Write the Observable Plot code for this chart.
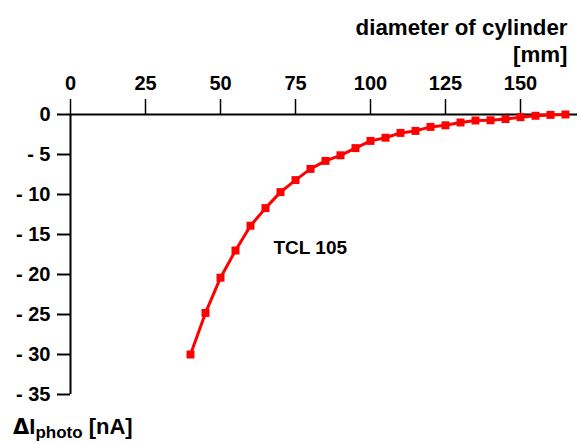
<!DOCTYPE html>
<html><head><meta charset="utf-8">
<script src="https://cdn.jsdelivr.net/npm/d3@7"></script>
<script src="https://cdn.jsdelivr.net/npm/@observablehq/plot@0.6"></script>
<style>
body{margin:0;background:#fff;}
#wrap{position:relative;width:581px;height:444px;font-family:"Liberation Sans",Arial,sans-serif;}
#wrap svg{display:block;}
#ylabel{position:absolute;left:13px;top:416px;font-size:22px;font-weight:bold;line-height:22px;white-space:nowrap;color:#000;}
#ylabel .delta{font-family:"DejaVu Sans",sans-serif;font-size:21px;}
#ylabel sub{font-size:17px;vertical-align:-4px;line-height:0;}
</style></head><body>
<div id="wrap"><div id="ylabel"><span class="delta">Δ</span>I<sub>photo</sub> [nA]</div></div>
<script>
const diameters = [40,45,50,55,60,65,70,75,80,85,90,95,100,105,110,115,120,125,130,135,140,145,150,155,160,165];
const deltaI = [-30.0,-24.8,-20.4,-17.0,-13.9,-11.7,-9.7,-8.2,-6.8,-5.8,-5.1,-4.2,-3.3,-2.9,-2.3,-2.05,-1.55,-1.35,-1.0,-0.75,-0.72,-0.57,-0.33,-0.16,-0.05,0.0];
const xTicks = [0,25,50,75,100,125,150];
const yTicks = [0,-5,-10,-15,-20,-25,-30,-35];
const seriesLabel = "TCL 105";
const xTitle = "diameter of cylinder\n[mm]";

const data = diameters.map((d,i)=>({d, v: deltaI[i]}));
const red = "#ff0000";

const chart = Plot.plot({
  width:581, height:444,
  marginTop:114, marginBottom:50, marginLeft:70, marginRight:4,
  style:{fontFamily:"Liberation Sans, Arial, sans-serif", fontWeight:"bold", fontSize:"20px", color:"#000", background:"#fff"},
  x:{domain:[0,169], axis:null},
  y:{domain:[-35,0], axis:null},
  marks:[
    Plot.axisX({anchor:"top", ticks:xTicks, tickSize:16, tickPadding:9, fontSize:20, strokeWidth:1.5, label:null}),
    Plot.axisY({anchor:"left", ticks:yTicks, tickSize:13, tickPadding:7, fontSize:20, strokeWidth:2, label:null,
      tickFormat: d => d === 0 ? "0" : "- " + Math.abs(d)}),
    Plot.ruleY([0], {stroke:"#000", strokeWidth:2}),
    Plot.ruleX([0], {stroke:"#000", strokeWidth:2}),
    Plot.line(data, {x:"d", y:"v", stroke:red, strokeWidth:3}),
    Plot.dot(data, {x:"d", y:"v", symbol:"square", r:4.5, fill:red, stroke:"none"}),
    Plot.text([seriesLabel], {frameAnchor:"top-left", dx:203, dy:139, textAnchor:"start", lineAnchor:"bottom", fontSize:19, fontWeight:"bold", fill:"#000"}),
    Plot.text([xTitle], {frameAnchor:"top-right", dx:-10, dy:-53, textAnchor:"end", lineAnchor:"bottom", lineHeight:1.2, fontSize:22.3, fontWeight:"bold", fill:"#000"})
  ]
});
document.getElementById("wrap").prepend(chart);
</script>
</body></html>
